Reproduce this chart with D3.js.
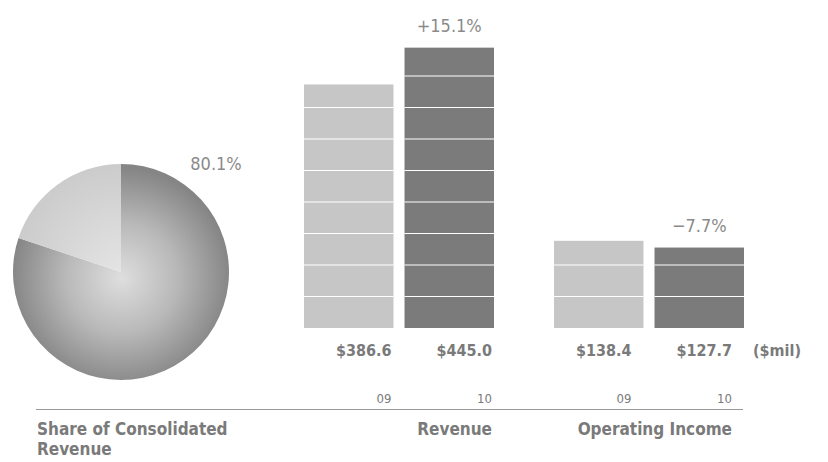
<!DOCTYPE html>
<html>
<head>
<meta charset="utf-8">
<script src="https://cdn.jsdelivr.net/npm/d3@7"></script>
<style>
  html, body { margin: 0; padding: 0; background: #fff; }
  svg { display: block; font-family: "Liberation Sans Narrow", "DejaVu Sans Condensed", "Liberation Sans", sans-serif; }
  .lbl { fill: #7a7a7a; font-weight: bold; }
  .yr { fill: #7a7a7a; font-weight: normal; }
  .pct { fill: #8a8a8a; }
</style>
</head>
<body>
<div id="chart"></div>
<script>
// Data
const shareLabels = ['Segment', 'Other']
const shareValues = [80.1, 19.9]
const groups = ['Revenue', 'Operating Income']
const years = ['09', '10']
const revenue = [386.6, 445.0]
const operatingIncome = [138.4, 127.7]
const changes = ['+15.1%', '\u22127.7%']
const gridSteps = [50, 100, 150, 200, 250, 300, 350, 400, 450]

const width = 828
const height = 462

const svg = d3.select('#chart')
  .append('svg')
  .attr('width', width)
  .attr('height', height)

const defs = svg.append('defs')

// Pie gradients (pie group is translated, so centre is 0,0)
const gBig = defs.append('radialGradient')
  .attr('id', 'pieBig')
  .attr('gradientUnits', 'userSpaceOnUse')
  .attr('cx', 0).attr('cy', 6).attr('r', 110)
gBig.append('stop').attr('offset', '0%').attr('stop-color', '#dedede')
gBig.append('stop').attr('offset', '50%').attr('stop-color', '#b9b9b9')
gBig.append('stop').attr('offset', '100%').attr('stop-color', '#858585')

const gSmall = defs.append('radialGradient')
  .attr('id', 'pieSmall')
  .attr('gradientUnits', 'userSpaceOnUse')
  .attr('cx', 0).attr('cy', 0).attr('r', 110)
gSmall.append('stop').attr('offset', '0%').attr('stop-color', '#e4e4e4')
gSmall.append('stop').attr('offset', '100%').attr('stop-color', '#cbcbcb')

// Pie
const pie = d3.pie().sort(null).value(d => d)
const arc = d3.arc().innerRadius(0).outerRadius(108)

const pieG = svg.append('g').attr('transform', 'translate(121, 272)')
pieG.selectAll('path')
  .data(pie(shareValues))
  .join('path')
  .attr('d', arc)
  .attr('fill', (d, i) => i === 0 ? 'url(#pieBig)' : 'url(#pieSmall)')

svg.append('text')
  .attr('class', 'pct')
  .attr('x', 216)
  .attr('y', 170)
  .attr('text-anchor', 'middle')
  .attr('font-size', 18)
  .text(d3.format('.1f')(shareValues[0]) + '%')

// Bars
const x0 = d3.scaleBand().domain(groups).range([304, 744]).paddingInner(0.24)
const x1 = d3.scaleBand().domain(years).range([0, x0.bandwidth()]).paddingInner(0.11)
const y = d3.scaleLinear().domain([0, 450]).range([328, 328 - 283.5])

const barData = [revenue, operatingIncome]
const barColors = ['#c6c6c6', '#7b7b7b']
const labelOffset = [2, 12]

const grp = svg.selectAll('g.grp')
  .data(groups)
  .join('g')
  .attr('class', 'grp')
  .attr('transform', d => `translate(${x0(d)}, 0)`)

grp.each(function (g, gi) {
  const sel = d3.select(this)
  const vals = barData[gi]

  sel.selectAll('rect.bar')
    .data(vals)
    .join('rect')
    .attr('class', 'bar')
    .attr('x', (d, i) => x1(years[i]))
    .attr('y', d => y(d))
    .attr('width', x1.bandwidth())
    .attr('height', d => y(0) - y(d))
    .attr('fill', (d, i) => barColors[i])

  // white grid lines through the bars
  vals.forEach((v, i) => {
    sel.selectAll(null)
      .data(gridSteps.filter(s => s < v))
      .join('line')
      .attr('x1', x1(years[i]))
      .attr('x2', x1(years[i]) + x1.bandwidth())
      .attr('y1', d => y(d))
      .attr('y2', d => y(d))
      .attr('stroke', '#fff')
      .attr('stroke-width', 1.2)
  })

  // value labels
  sel.selectAll('text.val')
    .data(vals)
    .join('text')
    .attr('class', 'lbl')
    .attr('x', (d, i) => x1(years[i]) + x1.bandwidth() - labelOffset[gi])
    .attr('y', 356)
    .attr('text-anchor', 'end')
    .attr('font-size', 16)
    .text(d => '$' + d3.format('.1f')(d))

  // year labels
  sel.selectAll('text.yr')
    .data(years)
    .join('text')
    .attr('class', 'yr')
    .attr('x', d => x1(d) + x1.bandwidth() - labelOffset[gi])
    .attr('y', 403)
    .attr('text-anchor', 'end')
    .attr('font-size', 13)
    .text(d => d)

  // change label above the second bar
  sel.append('text')
    .attr('class', 'pct')
    .attr('x', x1(years[1]) + x1.bandwidth() / 2)
    .attr('y', y(vals[1]) - 16)
    .attr('text-anchor', 'middle')
    .attr('font-size', 18)
    .text(changes[gi])

  // group title
  sel.append('text')
    .attr('class', 'lbl')
    .attr('x', x1(years[1]) + x1.bandwidth() - labelOffset[gi])
    .attr('y', 435)
    .attr('text-anchor', 'end')
    .attr('font-size', 17)
    .text(g)
})

svg.append('text')
  .attr('class', 'lbl')
  .attr('x', 801)
  .attr('y', 356)
  .attr('text-anchor', 'end')
  .attr('font-size', 16)
  .text('($mil)')

// baseline rule
svg.append('line')
  .attr('x1', 36).attr('x2', 743)
  .attr('y1', 409.5).attr('y2', 409.5)
  .attr('stroke', '#9a9a9a')
  .attr('stroke-width', 1)

// pie caption
const cap = svg.append('text')
  .attr('class', 'lbl')
  .attr('x', 37)
  .attr('y', 435)
  .attr('font-size', 17)
cap.append('tspan').attr('x', 37).text('Share of Consolidated')
cap.append('tspan').attr('x', 37).attr('dy', 20).text('Revenue')
</script>
</body>
</html>
